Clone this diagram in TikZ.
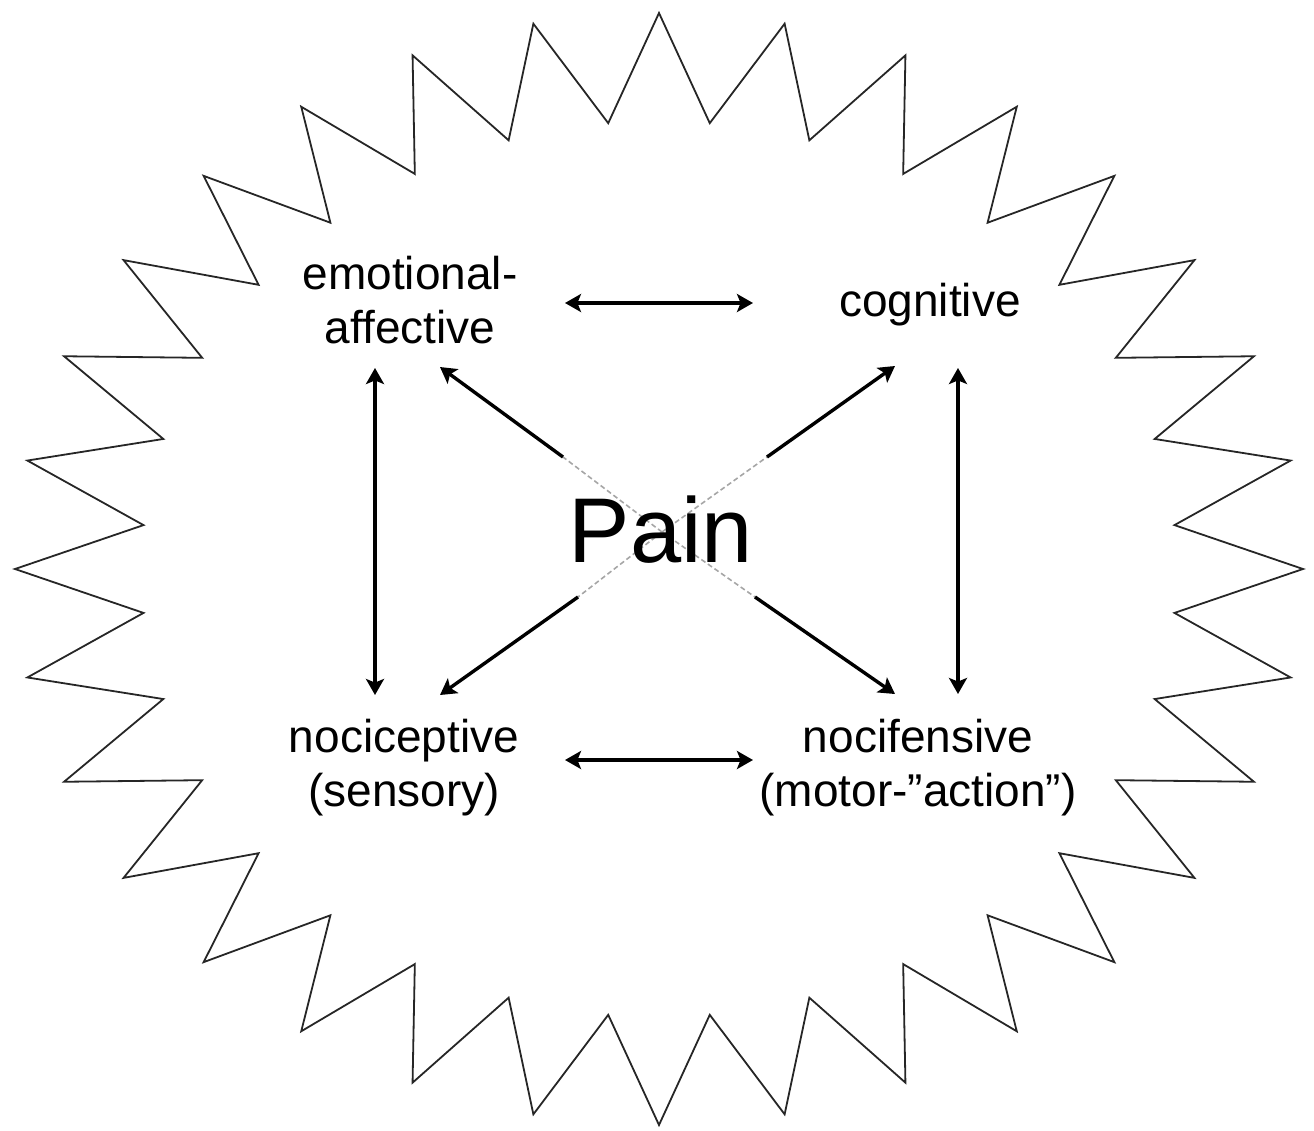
\documentclass[tikz,border=0pt]{standalone}
\usepackage{fontspec}
\setmainfont{Liberation Sans}
\usetikzlibrary{arrows.meta}
\begin{document}
\begin{tikzpicture}[x=0.5pt,y=-0.5pt,
  lbl/.style={align=center, inner sep=0pt, font=\fontsize{23}{27}\selectfont},
  starline/.style={draw=black!85, line width=0.9pt, line join=miter},
  con/.style={line width=1.7pt, >={Stealth[length=8pt,width=9pt,inset=1.8pt]}},
  faint/.style={draw=black!35, line width=0.8pt, dash pattern=on 2.5pt off 1.5pt}]
\useasboundingbox (0,0) rectangle (1314,1131);
% starburst
\draw[starline] (1303,569)
  \foreach \k in {0,...,31} {
    -- ({659+518*cos(\k*11.25+5.625)},{569-448*sin(\k*11.25+5.625)})
    -- ({659+644*cos((\k+1)*11.25)},{569-556*sin((\k+1)*11.25)})
  } -- cycle;
% centre and arrow ends
\coordinate (c) at (662,532);
\coordinate (dnw) at (563,457);
\coordinate (dne) at (767,457);
\coordinate (dsw) at (578,597);
\coordinate (dse) at (755,597);
\coordinate (tnw) at (440,367);
\coordinate (tne) at (895,366);
\coordinate (tsw) at (440,695);
\coordinate (tse) at (895,694);
\coordinate (ht1) at (565,303);
\coordinate (ht2) at (753,303);
\coordinate (hb1) at (565,760);
\coordinate (hb2) at (753,760);
\coordinate (vl1) at (375,368);
\coordinate (vl2) at (375,695);
\coordinate (vr1) at (958,368);
\coordinate (vr2) at (958,694);
% faint centre parts of the diagonals
\draw[faint] (c) -- (dnw);
\draw[faint] (c) -- (dne);
\draw[faint] (c) -- (dsw);
\draw[faint] (c) -- (dse);
% labels
\node[lbl] (ea) at (410,306) {\strut emotional-\\\strut affective};
\node[lbl] (cog) at (930,306) {\strut cognitive};
\node[lbl] (noc) at (404,769) {\strut nociceptive\\\strut (sensory)};
\node[lbl] (nof) at (918,769) {\strut nocifensive\\\strut (motor-”action”)};
\node[font=\fontsize{46}{55}\selectfont, inner sep=0pt, anchor=base] (pain) at (661,562) {Pain};
% connectors
\draw[con,<->] (ht1) -- (ht2);
\draw[con,<->] (hb1) -- (hb2);
\draw[con,<->] (vl1) -- (vl2);
\draw[con,<->] (vr1) -- (vr2);
\draw[con,->] (dnw) -- (tnw);
\draw[con,->] (dne) -- (tne);
\draw[con,->] (dsw) -- (tsw);
\draw[con,->] (dse) -- (tse);
\end{tikzpicture}
\end{document}
